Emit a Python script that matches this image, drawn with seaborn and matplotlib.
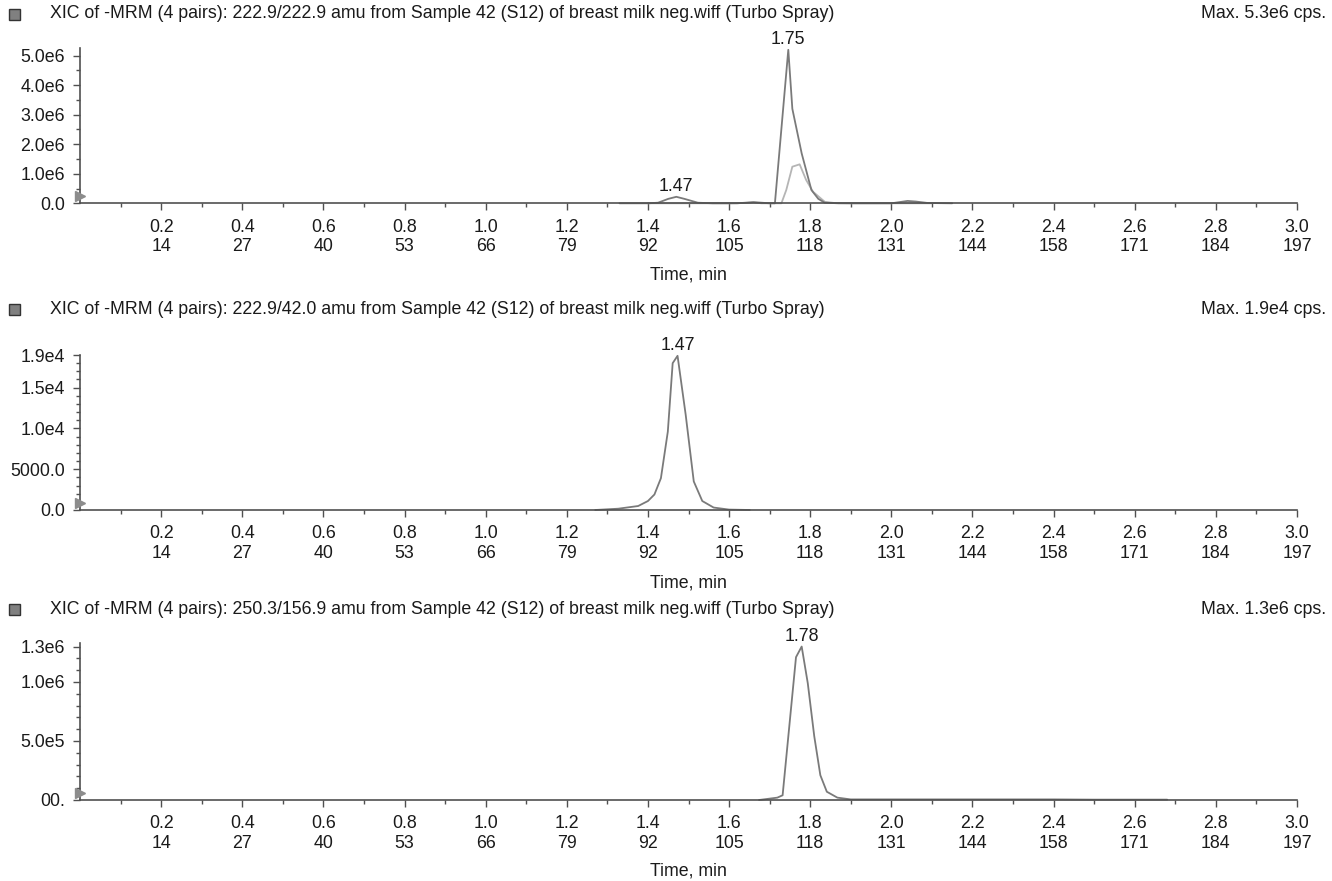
import numpy as np
import pandas as pd
import seaborn as sns
import matplotlib
matplotlib.use("Agg")
import matplotlib.pyplot as plt
from matplotlib.patches import Rectangle
from matplotlib.ticker import MultipleLocator, FixedLocator

# ---------------- data ----------------
titles = [
    "XIC of -MRM (4 pairs): 222.9/222.9 amu from Sample 42 (S12) of breast milk neg.wiff (Turbo Spray)",
    "XIC of -MRM (4 pairs): 222.9/42.0 amu from Sample 42 (S12) of breast milk neg.wiff (Turbo Spray)",
    "XIC of -MRM (4 pairs): 250.3/156.9 amu from Sample 42 (S12) of breast milk neg.wiff (Turbo Spray)",
]
max_labels = ["Max. 5.3e6 cps.", "Max. 1.9e4 cps.", "Max. 1.3e6 cps."]

x_major = [0.2, 0.4, 0.6, 0.8, 1.0, 1.2, 1.4, 1.6, 1.8, 2.0, 2.2, 2.4, 2.6, 2.8, 3.0]
x_cycles = [14, 27, 40, 53, 66, 79, 92, 105, 118, 131, 144, 158, 171, 184, 197]

# panel 1: 222.9/222.9 (dark) with overlay trace (light)
t1 = [1.33, 1.40, 1.425, 1.45, 1.47, 1.49, 1.523, 1.56, 1.62, 1.64, 1.66, 1.68, 1.70,
      1.713, 1.746, 1.756, 1.779, 1.803, 1.82, 1.836, 1.87, 2.00, 2.02, 2.04, 2.06, 2.09, 2.15]
v1 = [0, 0, 0.02e6, 0.15e6, 0.22e6, 0.15e6, 0.02e6, 0, 0, 0.02e6, 0.04e6, 0.02e6, 0,
      0, 5.2e6, 3.2e6, 1.69e6, 0.45e6, 0.15e6, 0.02e6, 0, 0, 0.04e6, 0.08e6, 0.06e6, 0.01e6, 0]
t1b = [1.40, 1.60, 1.64, 1.66, 1.68, 1.729, 1.741, 1.756, 1.774, 1.790, 1.807, 1.836, 1.86, 1.90, 2.10]
v1b = [0, 0, 0.01e6, 0.03e6, 0, 0, 0.45e6, 1.24e6, 1.32e6, 0.79e6, 0.39e6, 0.05e6, 0.01e6, 0, 0]

# panel 2: 222.9/42.0
t2 = [1.27, 1.327, 1.376, 1.40, 1.416, 1.432, 1.449, 1.461, 1.473, 1.493, 1.513, 1.534, 1.562, 1.60, 1.651]
v2 = [0, 160, 490, 1100, 1900, 3900, 9600, 18000, 18900, 11700, 3500, 1100, 300, 50, 0]

# panel 3: 250.3/156.9
t3 = [1.674, 1.719, 1.732, 1.765, 1.779, 1.794, 1.810, 1.825, 1.841, 1.867, 1.90, 2.10, 2.40, 2.50, 2.68]
v3 = [0, 0.02e6, 0.04e6, 1.21e6, 1.30e6, 0.99e6, 0.54e6, 0.21e6, 0.07e6, 0.02e6, 0.005e6,
      0.005e6, 0.005e6, 0.003e6, 0.003e6]

peaks = [[(1.746, 5.2e6, "1.75"), (1.47, 0.22e6, "1.47")],
         [(1.473, 18900, "1.47")],
         [(1.779, 1.30e6, "1.78")]]

y_ticks = [[0, 1e6, 2e6, 3e6, 4e6, 5e6], [0, 5000, 10000, 15000, 19000], [0, 5e5, 1e6, 1.3e6]]
y_ticklabels = [["0.0", "1.0e6", "2.0e6", "3.0e6", "4.0e6", "5.0e6"],
                ["0.0", "5000.0", "1.0e4", "1.5e4", "1.9e4"],
                ["00.", "5.0e5", "1.0e6", "1.3e6"]]
y_minor = [0.5e6, 1000, 1e5]
y_top = [5.25e6, 1.9e4, 1.33e6]

# ---------------- style ----------------
sns.set_theme(style="ticks")
plt.rcParams['font.family'] = ['Liberation Sans', 'DejaVu Sans']
TXT = "#1a1a1a"
AX = "#505050"
DARK = "#7a7a7a"
LIGHT = "#b5b5b5"
FS = 12.8

fig = plt.figure(figsize=(13.32, 8.81), dpi=100)
W, H = 1332, 881

# axes pixel geometry (left, top, right, bottom)
boxes = [(80, 48.3, 1297, 203.3), (80, 355, 1297, 510), (80, 643, 1297, 800)]
title_y = [14, 309, 609]
xlabel_y = [275, 583, 871]

series = [[(t1, v1, DARK), (t1b, v1b, LIGHT)], [(t2, v2, DARK)], [(t3, v3, DARK)]]

for i in range(3):
    l, t, r, b = boxes[i]
    ax = fig.add_axes([l / W, 1 - b / H, (r - l) / W, (b - t) / H])
    for (tt, vv, col) in series[i][::-1]:
        df = pd.DataFrame({"t": tt, "v": vv})
        sns.lineplot(data=df, x="t", y="v", ax=ax, color=col, lw=1.3,
                     estimator=None, sort=False, clip_on=False)
    ax.set_xlim(0, 3.0)
    ax.set_ylim(0, y_top[i])
    for s in ["top", "right"]:
        ax.spines[s].set_visible(False)
    for s in ["left", "bottom"]:
        ax.spines[s].set_color(AX)
        ax.spines[s].set_linewidth(1.2)
    ax.xaxis.set_major_locator(FixedLocator(x_major))
    ax.set_xticklabels([f"{a:.1f}\n{c}" for a, c in zip(x_major, x_cycles)],
                       fontsize=FS, color=TXT, linespacing=1.2)
    ax.xaxis.set_minor_locator(FixedLocator([0.1 + 0.2 * k for k in range(15)]))
    ax.yaxis.set_major_locator(FixedLocator(y_ticks[i]))
    ax.set_yticklabels(y_ticklabels[i], fontsize=FS, color=TXT)
    ax.yaxis.set_minor_locator(MultipleLocator(y_minor[i]))
    ax.tick_params(axis="both", which="major", length=5, width=1, color=AX, pad=6)
    ax.tick_params(axis="both", which="minor", length=3, width=1, color=AX)
    ax.tick_params(axis="y", which="major", pad=6)
    ax.set_xlabel("")
    ax.set_ylabel("")
    for (px, py, lab) in peaks[i]:
        ax.annotate(lab, xy=(px, py), xytext=(0, 1), textcoords="offset points",
                    ha="center", va="bottom", fontsize=FS, color=TXT, annotation_clip=False)
    # small threshold marker at the y axis
    ax.plot([0], [0.045], marker=">", ms=7, color="#8c8c8c", transform=ax.transAxes,
            clip_on=False, zorder=5)
    # header row
    fig.patches.append(Rectangle(((9) / W, 1 - (title_y[i] + 6) / H), 11 / W, 11 / H,
                                 transform=fig.transFigure, facecolor="#808080",
                                 edgecolor="#333333", lw=1, figure=fig))
    fig.text(50 / W, 1 - title_y[i] / H, titles[i], fontsize=FS, color=TXT,
             ha="left", va="center")
    fig.text(1326 / W, 1 - title_y[i] / H, max_labels[i], fontsize=FS, color=TXT,
             ha="right", va="center")
    fig.text(688 / W, 1 - xlabel_y[i] / H, "Time, min", fontsize=FS, color=TXT,
             ha="center", va="center")

fig.savefig("out.png", dpi=100, facecolor="white")
